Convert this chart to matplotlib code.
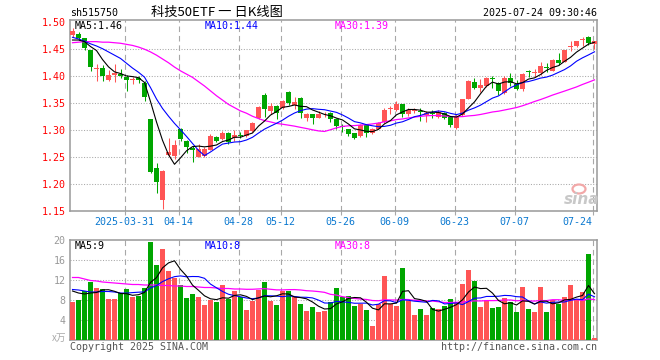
import numpy as np
import matplotlib
matplotlib.use('Agg')
import matplotlib.pyplot as plt
from matplotlib.patches import Ellipse

# ---------------- data ----------------
opens = [1.4758, 1.477, 1.4696, 1.447, 1.4132, 1.4144, 1.393, 1.401, 1.404, 1.398,
         1.392, 1.395, 1.387, 1.3193, 1.229, 1.170, 1.253, 1.2518, 1.301, 1.2795,
         1.267, 1.250, 1.251, 1.263, 1.287, 1.2825, 1.2948, 1.284, 1.2905, 1.2887,
         1.2979, 1.3224, 1.364, 1.3347, 1.3439, 1.3396, 1.370, 1.3457, 1.3592, 1.3212,
         1.3285, 1.3224, 1.3285, 1.3316, 1.3193, 1.3058, 1.301, 1.2936, 1.2887, 1.3089,
         1.2948, 1.3022, 1.3144, 1.3377, 1.3365, 1.3482, 1.3298, 1.3353, 1.3347, 1.3273,
         1.3304, 1.3242, 1.3316, 1.3236, 1.3040, 1.3273, 1.3574, 1.3887, 1.3776, 1.3807,
         1.3948, 1.3868, 1.3684, 1.396, 1.3856, 1.3746, 1.4083, 1.4052, 1.4052, 1.4163,
         1.4095, 1.4298, 1.4255, 1.4537, 1.4543, 1.4660, 1.4709, 1.4586]
highs = [1.488, 1.481, 1.4705, 1.448, 1.4224, 1.420, 1.411, 1.421, 1.413, 1.401,
         1.398, 1.400, 1.390, 1.320, 1.238, 1.2262, 1.284, 1.281, 1.304, 1.282,
         1.270, 1.2745, 1.268, 1.2917, 1.289, 1.2985, 1.2966, 1.299, 1.296, 1.300,
         1.315, 1.344, 1.368, 1.350, 1.3457, 1.3543, 1.3727, 1.3604, 1.3604, 1.3316,
         1.3285, 1.3347, 1.3334, 1.3328, 1.3212, 1.311, 1.301, 1.295, 1.311, 1.310,
         1.304, 1.315, 1.3396, 1.3439, 1.353, 1.3482, 1.3396, 1.3396, 1.3396, 1.3347,
         1.3365, 1.3359, 1.3334, 1.3255, 1.3285, 1.3574, 1.3917, 1.396, 1.3942, 1.3972,
         1.399, 1.388, 1.4003, 1.4052, 1.393, 1.4052, 1.4114, 1.4132, 1.4255, 1.4236,
         1.4316, 1.442, 1.4482, 1.4635, 1.4647, 1.4709, 1.4727, 1.4647]
lows = [1.471, 1.4666, 1.447, 1.4095, 1.3905, 1.391, 1.391, 1.388, 1.395, 1.371,
        1.384, 1.387, 1.354, 1.221, 1.183, 1.153, 1.252, 1.2457, 1.279, 1.258,
        1.241, 1.249, 1.249, 1.262, 1.277, 1.281, 1.2745, 1.280, 1.284, 1.2875,
        1.2966, 1.3193, 1.3236, 1.3285, 1.3206, 1.338, 1.3457, 1.3378, 1.3212, 1.3163,
        1.310, 1.3224, 1.3236, 1.315, 1.302, 1.296, 1.289, 1.2825, 1.2875, 1.2874,
        1.292, 1.301, 1.313, 1.3298, 1.335, 1.3236, 1.3255, 1.331, 1.3156, 1.3144,
        1.3212, 1.3224, 1.3193, 1.3052, 1.302, 1.3255, 1.3562, 1.3764, 1.370, 1.3795,
        1.3776, 1.3641, 1.3666, 1.3819, 1.3733, 1.3727, 1.3973, 1.3973, 1.4022, 1.4071,
        1.4083, 1.4206, 1.4249, 1.4463, 1.4525, 1.4543, 1.4574, 1.4500]
closes = [1.4819, 1.4696, 1.4512, 1.4156, 1.4144, 1.399, 1.402, 1.405, 1.400, 1.392,
          1.393, 1.392, 1.361, 1.223, 1.2034, 1.2242, 1.259, 1.272, 1.2825, 1.2684,
          1.263, 1.264, 1.265, 1.289, 1.279, 1.2948, 1.2782, 1.291, 1.2885, 1.2998,
          1.3132, 1.342, 1.3377, 1.3439, 1.3316, 1.353, 1.350, 1.3512, 1.3316, 1.3285,
          1.3224, 1.3298, 1.330, 1.3193, 1.307, 1.3052, 1.292, 1.2856, 1.3089, 1.2948,
          1.3022, 1.3132, 1.3359, 1.3396, 1.3482, 1.3285, 1.3359, 1.3359, 1.3328, 1.3304,
          1.3285, 1.3328, 1.3224, 1.3089, 1.3257, 1.3562, 1.3899, 1.3776, 1.3837, 1.396,
          1.3936, 1.3727, 1.396, 1.3868, 1.3764, 1.4034, 1.4065, 1.4071, 1.4175, 1.4150,
          1.4298, 1.4236, 1.447, 1.4543, 1.4635, 1.4666, 1.4604, 1.4647]
volumes = [7.6, 8.0, 9.8, 11.7, 10.4, 10.2, 8.2, 8.2, 9.5, 10.2,
           8.6, 8.8, 10.4, 19.6, 15.0, 18.3, 13.8, 12.5, 11.0, 8.4,
           9.2, 8.6, 7.0, 8.0, 7.6, 11.0, 8.2, 9.8, 8.6, 6.0,
           7.8, 10.0, 11.6, 7.8, 7.0, 9.8, 9.8, 8.6, 7.2, 5.8,
           6.6, 5.6, 5.8, 7.6, 10.5, 8.7, 8.9, 6.8, 7.3, 6.0,
           2.8, 7.2, 12.9, 7.2, 6.8, 14.5, 7.9, 5.0, 6.2, 5.0,
           6.5, 6.2, 6.8, 8.2, 7.7, 11.3, 14.0, 11.8, 6.6, 8.0,
           6.5, 6.6, 8.5, 7.7, 5.7, 10.6, 6.2, 5.7, 10.6, 5.7,
           8.0, 7.2, 8.6, 11.1, 8.0, 9.6, 17.2, 0.4]

# moving-average values at the left edge (their windows start before the first bar)
ma5_head = [1.466, 1.466, 1.463, 1.454]
ma10_head = [1.471, 1.468, 1.464, 1.459, 1.455, 1.450, 1.444, 1.438, 1.432]
ma30_head = [1.461, 1.462, 1.463, 1.463, 1.463, 1.462, 1.462, 1.461, 1.460, 1.458,
             1.456, 1.453, 1.449, 1.444, 1.438, 1.431, 1.424, 1.416, 1.409, 1.403,
             1.397, 1.389, 1.381, 1.372, 1.363, 1.355, 1.347, 1.341, 1.335]
vma5_head = [9.8, 9.4, 9.2, 9.4]
vma10_head = [10.1, 10.0, 9.8, 9.6, 9.6, 9.7, 9.7, 9.6, 9.4]
vma30_head = [12.5, 12.5, 12.2, 11.9, 11.8, 11.6, 11.5, 11.4, 11.3, 11.2,
              11.1, 11.1, 11.0, 11.0, 11.0, 10.9, 10.9, 10.8, 10.8, 10.7,
              10.7, 10.6, 10.5, 10.5, 10.4, 10.3, 10.3, 10.2, 10.2]

tick_idx = [9, 18, 28, 35, 45, 54, 64, 74, 87]
tick_labels = ['2025-03-31', '04-14', '04-28', '05-12', '05-26', '06-09', '06-23', '07-07', '07-24']
price_ticks = [1.15, 1.20, 1.25, 1.30, 1.35, 1.40, 1.45, 1.50]
price_tick_labels = ['1.15', '1.20', '1.25', '1.30', '1.35', '1.40', '1.45', '1.50']
vol_ticks = [4, 8, 12, 16, 20]
vol_tick_labels = ['4', '8', '12', '16', '20']

# ---------------- styling ----------------
W, H = 660, 360
RED = '#ff5555'
GREEN = '#00a600'
GRID = '#a8a8a8'
MONO = 'DejaVu Sans Mono'
CJK = ['Noto Sans CJK SC', 'DejaVu Sans']

def rolling(a, n):
    return np.convolve(np.asarray(a, float), np.ones(n) / n, mode='valid')

o = np.array(opens); h = np.array(highs); l = np.array(lows); c = np.array(closes)
v = np.array(volumes)
n = len(c)
x = np.arange(n)
ma5 = np.concatenate([ma5_head, rolling(c, 5)])
ma10 = np.concatenate([ma10_head, rolling(c, 10)])
ma30 = np.concatenate([ma30_head, rolling(c, 30)])
vma5 = np.concatenate([vma5_head, rolling(v, 5)])
vma10 = np.concatenate([vma10_head, rolling(v, 10)])
vma30 = np.concatenate([vma30_head, rolling(v, 30)])
up = c >= o
cols = np.where(up, RED, GREEN)

fig = plt.figure(figsize=(W / 100, H / 100), dpi=100)

def axrect(l_, t_, r_, b_):
    return [l_ / W, 1 - b_ / H, (r_ - l_) / W, (b_ - t_) / H]

ax = fig.add_axes(axrect(70, 20, 597, 211))
axv = fig.add_axes(axrect(70, 240, 597, 340))

xlim = (-2.5 / 6, (597 - 72.5) / 6)
bw = 5 / 6

# price panel
px_price = (1.503 - 1.15) / 191.0
body_bot = np.minimum(o, c)
body_h = np.maximum(np.abs(c - o), px_price * 0.9)
ax.vlines(x, l, h, colors=cols, linewidth=0.75, zorder=2)
ax.bar(x, body_h, bottom=body_bot, width=bw, color=cols, linewidth=0, zorder=3)
ax.plot(x, ma30, color='#ff00ff', lw=0.9, zorder=4)
ax.plot(x, ma10, color='#0000ff', lw=0.8, zorder=5)
ax.plot(x, ma5, color='black', lw=0.8, zorder=6)
ax.set_xlim(*xlim)
ax.set_ylim(1.15, 1.503)

# volume panel
axv.bar(x, v, width=bw, color=cols, linewidth=0, zorder=3)
axv.plot(x, vma30, color='#ff00ff', lw=0.9, zorder=4)
axv.plot(x, vma10, color='#0000ff', lw=0.8, zorder=5)
axv.plot(x, vma5, color='black', lw=0.8, zorder=6)
axv.set_xlim(*xlim)
axv.set_ylim(0, 20)

for a in (ax, axv):
    for s in a.spines.values():
        s.set_color('#999999')
        s.set_linewidth(1.1)
    for t in tick_idx:
        a.axvline(t - 0.33, color=GRID, lw=0.8, linestyle=(0, (5, 3.5)), zorder=1)

for yv in price_ticks[1:-1]:
    ax.axhline(yv, color=GRID, lw=0.75, linestyle=(0, (1, 1.6)), zorder=1)
for yv in vol_ticks[:-1]:
    axv.axhline(yv, color=GRID, lw=0.75, linestyle=(0, (1, 1.6)), zorder=1)

ax.set_yticks(price_ticks, price_tick_labels)
ax.tick_params(axis='y', length=0, pad=3.2, labelcolor='#ff0000', labelsize=7.2)
for t in ax.get_yticklabels():
    t.set_fontfamily(MONO)
ax.set_xticks([t - 0.33 for t in tick_idx], tick_labels)
ax.tick_params(axis='x', length=3, width=0.8, color=GRID, pad=1.2,
               labelcolor='#0a78d0', labelsize=7.2)
for t in ax.get_xticklabels():
    t.set_fontfamily(MONO)
xt = ax.get_xticklabels()
xt[-1].set_ha('right')

axv.set_yticks(vol_ticks, vol_tick_labels)
axv.tick_params(axis='y', length=0, pad=3.2, labelcolor='#999999', labelsize=7.2)
for t in axv.get_yticklabels():
    t.set_fontfamily(MONO)
axv.set_xticks([])

def ftext(px, py, s, **kw):
    fig.text(px / W, 1 - py / H, s, **kw)

ftext(70, 13, 'sh515750', ha='left', va='center', family=MONO, size=7.2, color='black')
ftext(217, 12.5, '科技50ETF 一 日K线图', ha='center', va='center', family=CJK, size=9.5, color='black')
ftext(597, 13, '2025-07-24 09:30:46', ha='right', va='center', family=MONO, size=7.2, color='black')

ftext(75, 26, 'MA5:1.46', ha='left', va='center', family=MONO, size=7.2, color='black')
ftext(205, 26, 'MA10:1.44', ha='left', va='center', family=MONO, size=7.2, color='#0000ff')
ftext(335, 26, 'MA30:1.39', ha='left', va='center', family=MONO, size=7.2, color='#ff00ff')

ftext(75, 246, 'MA5:9', ha='left', va='center', family=MONO, size=7.2, color='black')
ftext(205, 246, 'MA10:8', ha='left', va='center', family=MONO, size=7.2, color='#0000ff')
ftext(335, 246, 'MA30:8', ha='left', va='center', family=MONO, size=7.2, color='#ff00ff')

ftext(66, 338, 'x万', ha='right', va='center', family=CJK, size=7, color='#aaaaaa')
ftext(70, 347, 'Copyright 2025 SINA.COM', ha='left', va='center', family=MONO, size=7.2, color='#555555')
ftext(597, 347, 'http://finance.sina.com.cn', ha='right', va='center', family=MONO, size=7.2, color='#555555')

# sina watermark
fig.patches.append(Ellipse((579 / W, 1 - 189 / H), 13 / W, 9 / H, transform=fig.transFigure,
                           facecolor='none', edgecolor='#f2a8a8', lw=1.6, zorder=1))
ftext(582, 199, 'sina', ha='center', va='center', family='DejaVu Sans', size=11,
      weight='bold', style='italic', color='#c8c8c8')

fig.savefig('out.png', dpi=100)
